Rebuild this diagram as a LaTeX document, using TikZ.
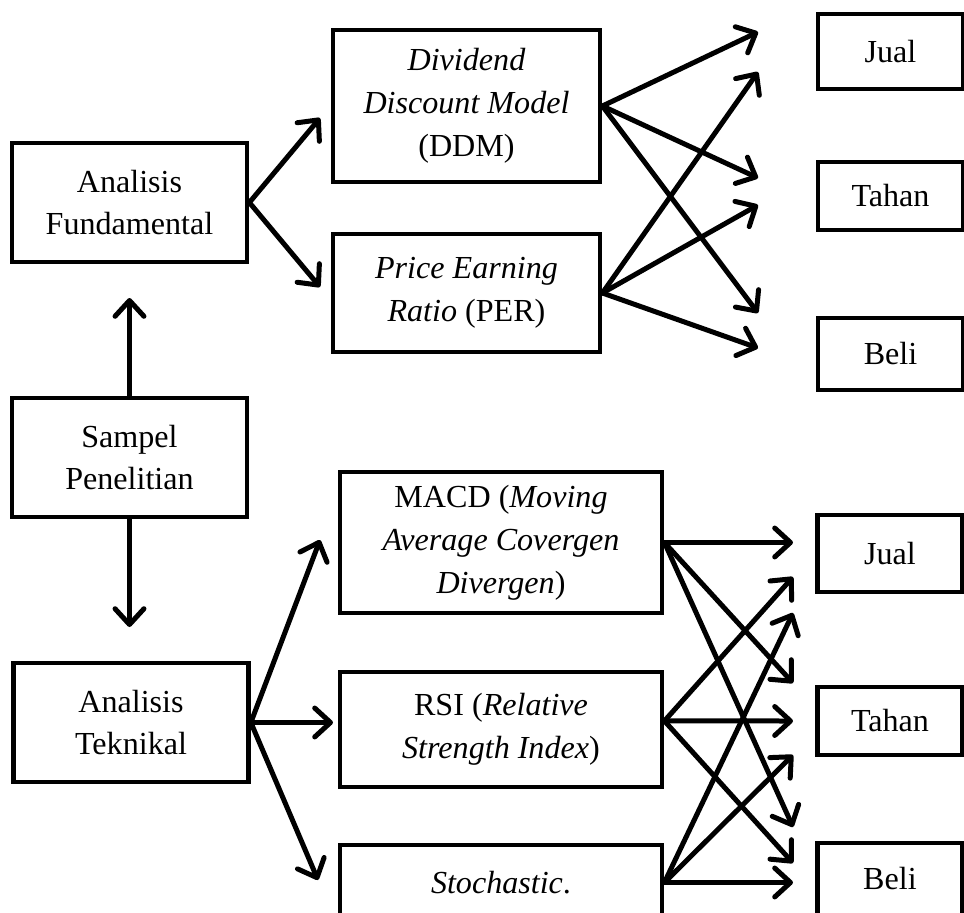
\documentclass[tikz,border=0pt]{standalone}
\usepackage{fontspec}
\setmainfont{Liberation Serif}
\usetikzlibrary{arrows.meta}

\tikzset{
  box/.style={draw, line width=1.8pt, align=center, inner sep=0pt,
    font=\fontsize{12.2}{16.3}\selectfont},
  arr/.style={line width=1.9pt, line cap=round,
    -{Straight Barb[length=6pt,width=11pt,line cap=round,line join=round]}}
}

\begin{document}
\begin{tikzpicture}[x=0.38pt,y=-0.38pt]
\useasboundingbox (0,0) rectangle (964,913);
\clip (0,0) rectangle (964,913);

% left column
\node[box, minimum width=89.3pt, minimum height=45.2pt] (fund) at (129.5,202.5) {Analisis\\Fundamental};
\node[box, minimum width=89.3pt, minimum height=45.2pt] (sampel) at (129.5,457.5) {Sampel\\Penelitian};
\node[box, minimum width=89.3pt, minimum height=45.2pt] (tekn) at (131,722.5) {Analisis\\Teknikal};

% methods
\node[box, minimum width=101.5pt, minimum height=57.8pt] (ddm) at (466.5,106) {\textit{Dividend}\\\textit{Discount Model}\\(DDM)};
\node[box, minimum width=101.5pt, minimum height=44.8pt] (per) at (466.5,293) {\textit{Price Earning}\\\textit{Ratio} (PER)};
\node[box, minimum width=122.4pt, minimum height=53.6pt] (macd) at (501,542.5) {MACD (\textit{Moving}\\\textit{Average Covergen}\\\textit{Divergen})};
\node[box, minimum width=122.4pt, minimum height=43.7pt] (rsi) at (501,729.5) {RSI (\textit{Relative}\\\textit{Strength Index})};
\node[box, minimum width=122.4pt, minimum height=28.5pt] (stoch) at (501,882.5) {\textit{Stochastic}.};

% decisions
\node[box, minimum width=55.1pt, minimum height=28.5pt] (jualA) at (890.5,51.5) {Jual};
\node[box, minimum width=55.1pt, minimum height=25.8pt] (tahanA) at (890.5,196) {Tahan};
\node[box, minimum width=55.1pt, minimum height=27.4pt] (beliA) at (890.5,354) {Beli};
\node[box, minimum width=55.1pt, minimum height=29.3pt] (jualB) at (890,553.5) {Jual};
\node[box, minimum width=55.1pt, minimum height=25.8pt] (tahanB) at (890,721) {Tahan};
\node[box, minimum width=55.1pt, minimum height=27.4pt] (beliB) at (890,879) {Beli};

% arrow ends
\coordinate (upEnd) at (129.5,298);
\coordinate (downEnd) at (129.5,627);
\coordinate (toDdm) at (320,118);
\coordinate (toPer) at (320,287);
\coordinate (toMacd) at (320,540);
\coordinate (toRsi) at (333,722.5);
\coordinate (toStoch) at (318,880);

\coordinate (a1) at (758,32);
\coordinate (a2) at (758,72);
\coordinate (a3) at (758,178);
\coordinate (a4) at (758,205);
\coordinate (a5) at (758,313);
\coordinate (a6) at (758,348);

\coordinate (b1) at (793,542.5);
\coordinate (b2) at (793,577);
\coordinate (b3) at (793,613);
\coordinate (b4) at (793,683);
\coordinate (b5) at (793,721);
\coordinate (b6) at (793,755);
\coordinate (b7) at (793,827);
\coordinate (b8) at (793,863);
\coordinate (b9) at (793,882.5);

\draw[arr] (sampel.north) -- (upEnd);
\draw[arr] (sampel.south) -- (downEnd);
\draw[arr] (fund.east) -- (toDdm);
\draw[arr] (fund.east) -- (toPer);
\draw[arr] (tekn.east) -- (toMacd);
\draw[arr] (tekn.east) -- (toRsi);
\draw[arr] (tekn.east) -- (toStoch);

\foreach \e in {a1,a3,a5} \draw[arr] (ddm.east) -- (\e);
\foreach \e in {a2,a4,a6} \draw[arr] (per.east) -- (\e);

\foreach \e in {b1,b4,b7} \draw[arr] (macd.east) -- (\e);
\foreach \e in {b2,b5,b8} \draw[arr] (rsi.3) -- (\e);
\foreach \e in {b3,b6,b9} \draw[arr] (stoch.east) -- (\e);
\end{tikzpicture}
\end{document}
